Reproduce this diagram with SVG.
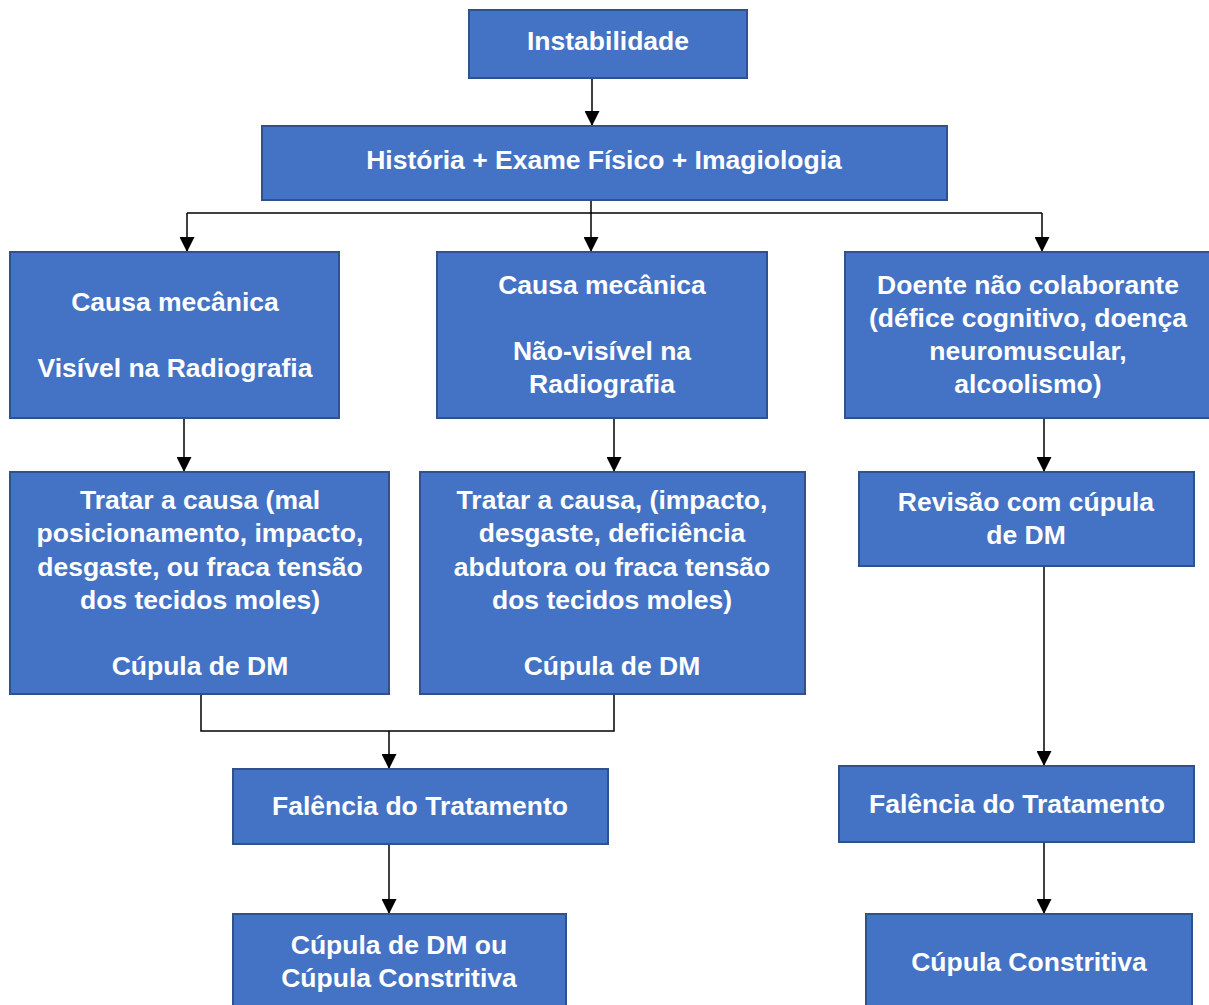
<svg xmlns="http://www.w3.org/2000/svg" width="1209" height="1005" viewBox="0 0 1209 1005">
<defs>
<style>
.box{fill:#4472C4;stroke:#2F528F;stroke-width:2}
.t{font-family:"Liberation Sans",Arial,sans-serif;font-weight:bold;font-size:26.5px;fill:#FFFFFF;text-anchor:middle}
.c{fill:none;stroke:#000;stroke-width:1.5}
</style>
<marker id="a" markerWidth="15" markerHeight="15" refX="15" refY="7.5" orient="auto" markerUnits="userSpaceOnUse" viewBox="0 0 15 15">
<path d="M0,0 L15,7.5 L0,15 Z" fill="#000"/>
</marker>
</defs>
<rect width="1209" height="1005" fill="#FFFFFF"/>
<g id="connectors">
<path class="c" d="M592,78 V126" marker-end="url(#a)"/>
<path class="c" d="M591,200 V252" marker-end="url(#a)"/>
<path class="c" d="M187,213 H1042"/>
<path class="c" d="M187,213 V252" marker-end="url(#a)"/>
<path class="c" d="M1042,213 V252" marker-end="url(#a)"/>
<path class="c" d="M184,418 V472" marker-end="url(#a)"/>
<path class="c" d="M614,418 V472" marker-end="url(#a)"/>
<path class="c" d="M1044,418 V472" marker-end="url(#a)"/>
<path class="c" d="M201,694 V731 H614 V694"/>
<path class="c" d="M389,731 V769" marker-end="url(#a)"/>
<path class="c" d="M1044,566 V766" marker-end="url(#a)"/>
<path class="c" d="M389,844 V914" marker-end="url(#a)"/>
<path class="c" d="M1044,842 V914" marker-end="url(#a)"/>
</g>
<g id="n-instabilidade">
<rect class="box" x="469" y="10" width="278" height="68"/>
<text class="t" x="608" y="50">Instabilidade</text>
</g>
<g id="n-historia">
<rect class="box" x="262" y="126" width="685" height="74"/>
<text class="t" x="604" y="169">História + Exame Físico + Imagiologia</text>
</g>
<g id="n-visivel">
<rect class="box" x="10" y="252" width="329" height="166"/>
<text class="t" x="175" y="311">Causa mecânica</text>
<text class="t" x="175" y="377">Visível na Radiografia</text>
</g>
<g id="n-naovisivel">
<rect class="box" x="437" y="252" width="330" height="166"/>
<text class="t" x="602" y="294">Causa mecânica</text>
<text class="t" x="602" y="360">Não-visível na</text>
<text class="t" x="602" y="393">Radiografia</text>
</g>
<g id="n-doente">
<rect class="box" x="845" y="252" width="366" height="166"/>
<text class="t" x="1028" y="294">Doente não colaborante</text>
<text class="t" x="1028" y="327">(défice cognitivo, doença</text>
<text class="t" x="1028" y="360">neuromuscular,</text>
<text class="t" x="1028" y="393">alcoolismo)</text>
</g>
<g id="n-tratar1">
<rect class="box" x="10" y="472" width="379" height="222"/>
<text class="t" x="200" y="509">Tratar a causa (mal</text>
<text class="t" x="200" y="542">posicionamento, impacto,</text>
<text class="t" x="200" y="576">desgaste, ou fraca tensão</text>
<text class="t" x="200" y="609">dos tecidos moles)</text>
<text class="t" x="200" y="675">Cúpula de DM</text>
</g>
<g id="n-tratar2">
<rect class="box" x="420" y="472" width="385" height="222"/>
<text class="t" x="612" y="509">Tratar a causa, (impacto,</text>
<text class="t" x="612" y="542">desgaste, deficiência</text>
<text class="t" x="612" y="576">abdutora ou fraca tensão</text>
<text class="t" x="612" y="609">dos tecidos moles)</text>
<text class="t" x="612" y="675">Cúpula de DM</text>
</g>
<g id="n-revisao">
<rect class="box" x="859" y="472" width="335" height="94"/>
<text class="t" x="1026" y="511">Revisão com cúpula</text>
<text class="t" x="1026" y="544">de DM</text>
</g>
<g id="n-falencia1">
<rect class="box" x="233" y="769" width="375" height="75"/>
<text class="t" x="420" y="815">Falência do Tratamento</text>
</g>
<g id="n-falencia2">
<rect class="box" x="839" y="766" width="355" height="76"/>
<text class="t" x="1017" y="813">Falência do Tratamento</text>
</g>
<g id="n-cupula-dm-ou">
<rect class="box" x="233" y="914" width="333" height="100"/>
<text class="t" x="399" y="954">Cúpula de DM ou</text>
<text class="t" x="399" y="987">Cúpula Constritiva</text>
</g>
<g id="n-cupula-constritiva">
<rect class="box" x="866" y="914" width="326" height="100"/>
<text class="t" x="1029" y="971">Cúpula Constritiva</text>
</g>
</svg>
